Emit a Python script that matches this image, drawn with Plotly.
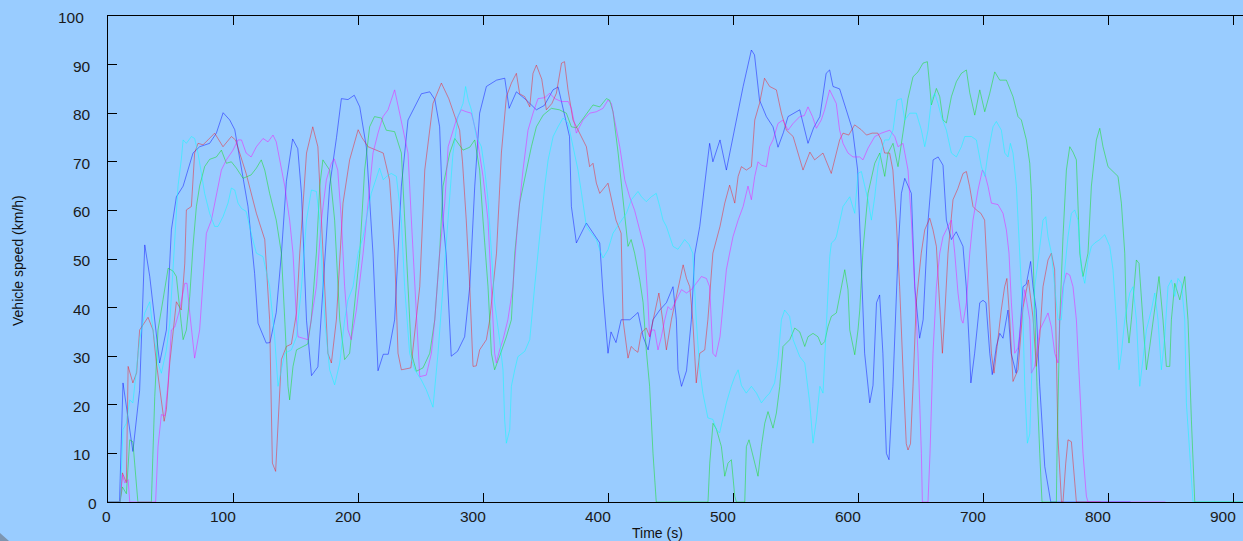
import plotly.graph_objects as go

# ---------------- data ----------------
blue_t = [0, 9.2, 12, 19.9, 25.3, 29.4, 33.4, 37.4, 41.3, 46.7, 50.7, 54.7, 60.1, 68, 73.3, 81.3, 86.7, 92.1, 97.4, 101.4,
          105.4, 112, 117.3, 120, 126.6, 129.6, 134.6, 138.7, 142.7, 147.7, 151.8, 154.8, 158.8, 162.8, 167.9, 171.9, 177.3,
          182.8, 186.7, 192, 197, 201.4, 206.7, 212, 216, 220.2, 224.2, 229.3, 234.7, 240, 244.4, 250.7, 257.4, 261.5, 265.3,
          268, 270.5, 274.6, 279.6, 285.3, 289.4, 293.4, 297.3, 302.7, 310.8, 317.4, 320.9, 326.7, 334.7, 342.7, 349.1, 356,
          360.1, 365.2, 369.2, 370.7, 374.7, 382.7, 388, 393.4, 396, 400, 402.4, 406.4, 410.5, 417.5, 424, 428.1, 432.1, 436,
          441.4, 446.7, 452, 454.7, 456, 458.8, 462.8, 466.7, 469.4, 473.4, 478.7, 481.3, 483.9, 489.6, 494.7, 502.7, 508.1,
          514.7, 517.2, 521.2, 526.7, 532, 536, 540.3, 544, 553.4, 560, 564.5, 569.5, 574.5, 577.3, 580, 585.3, 590.6, 595.7,
          599.7, 601.3, 602.7, 605.3, 609.4, 612, 614.8, 617.3, 619.9, 622.7, 624.8, 627.9, 632, 634.7, 637.4, 642.7, 645.4,
          649.3, 652.1, 656.1, 660.1, 664.1, 668, 670.7, 674.7, 678.6, 684, 686.6, 689.3, 690.3, 693.3, 697.4, 700, 702.4,
          705.4, 707.4, 710.7, 713.4, 716, 720, 722.5, 726.5, 729.3, 732, 734.6, 738.1, 740, 742.6, 745.4, 749.4, 754.2, 818]
blue_v = [0, 0, 24.5, 10.4, 23, 52.9, 46.4, 38, 28.6, 35.4, 56, 62.8, 65, 71.8, 73.1, 73.8, 75.9, 80.1, 78.6, 76.6,
          70.4, 60.8, 47, 36.8, 32.7, 32.8, 39, 51, 66, 74.7, 72.7, 63.4, 37.4, 26, 27.8, 44, 65,
          75, 83, 82.8, 83.7, 81.3, 73, 51, 27, 30.4, 30.4, 37.5, 65, 78.6, 80.7, 84, 84.4, 82.8, 77.2,
          58, 51, 30, 31, 34, 44.3, 65, 80, 85.5, 86.8, 87.2, 81, 84.4, 82.7, 80.7, 81.6, 84.8,
          85.4, 80, 75.2, 60.8, 53.3, 57.4, 55.3, 53.3, 43, 30.6, 35, 32.8, 37.5, 37.5, 39, 34, 31.3, 37.5,
          39.5, 41, 44.3, 37.5, 27.2, 23.8, 27, 37.5, 51, 56.7, 68.3, 73.8, 70, 74.5, 68.3, 78.6, 85.5,
          93, 92, 82.7, 79.3, 77.2, 73, 76, 79.3, 80.7, 73.8, 77, 79.3, 88.2, 88.9, 85.5, 85, 80.7, 76.5,
          68.3, 58, 47.8, 30.6, 20.4, 24, 41, 42.6, 30.6, 10, 8.7, 23.8, 51.2, 63.5, 66.6, 63.5, 44.3,
          33.7, 37.5, 58, 70.4, 71, 69.3, 58, 54, 55.6, 52.6, 44.3, 30.7, 24.5, 30.6, 41, 41.5, 41,
          30.6, 26.2, 32, 34.7, 33.7, 39.5, 30.6, 26.5, 34, 44.3, 44.8, 49.5, 44.3, 39.5, 23.8, 7.3, 0, 0]

red_t = [0, 9.7, 11.5, 14.7, 16.1, 19.9, 22.9, 25.3, 32, 36, 38.7, 42.7, 44.9, 46.7, 49.4, 54.7, 58.6, 61.4, 62.7, 66.7,
         69.3, 72, 76, 80, 85.3, 92, 98.7, 102, 110.5, 118.7, 125.4, 129.3, 131.5, 134.1, 136, 138.7, 142.7, 146.7, 150.8,
         153.4, 158.8, 163.8, 167.9, 171.9, 175.9, 178.7, 182.7, 188, 193.3, 200.1, 203.1, 208, 214.7, 220.2, 225.2, 229.3,
         232, 234.7, 242.3, 249.4, 253.4, 260, 266.7, 272.6, 281.3, 283.6, 286.6, 289.4, 292, 294.6, 297.3, 302.7, 305.4,
         310.8, 314.7, 318.7, 322.7, 326.7, 329.3, 333.4, 337.4, 340, 342.7, 347, 350.7, 355.1, 358.7, 362.8, 365.2, 368,
         372, 377.2, 382.7, 385.3, 388, 390.7, 393.4, 400, 404, 406.4, 410.5, 412, 416, 418.5, 421.3, 423.9, 426.6, 430.6,
         433.3, 437.3, 440.7, 443.7, 446.7, 450.7, 456.1, 460.1, 462.8, 465.4, 467.8, 470.6, 473.4, 477.4, 479.9, 483.9,
         489.6, 493.4, 497.3, 501.4, 504.1, 506.7, 510.7, 514.7, 517.4, 521.2, 525.2, 529.3, 534.7, 538.7, 542.7, 548.1,
         552, 556, 561.5, 565.3, 572, 578.6, 585.3, 588, 592.6, 597.3, 602.6, 606.8, 611.3, 615.8, 618.6, 621.3, 625.3,
         627.9, 630.6, 633.3, 636, 638.6, 640, 642, 644, 646.6, 650.6, 653.4, 657.4, 660, 662.7, 665.3, 667.5, 669.2, 672,
         676, 679.9, 684, 686.7, 689.3, 692, 694.6, 698.3, 701.3, 704, 706.7, 708.8, 712, 714.6, 717.3, 719.1, 721.4, 724,
         728, 732, 736.3, 740, 742.6, 745.4, 748, 752, 754.7, 757.3, 758.7, 759.9, 762.8, 764, 766.2, 768, 770.7, 772,
         774.7, 794]
red_v = [0, 0, 6, 4, 27.9, 24.5, 26.6, 35.4, 38, 35.4, 28.6, 20.3, 16.6, 19, 28.6, 41.2, 39.5, 49, 60.1, 60.8,
         71.8, 73.8, 73.5, 74.5, 75.9, 73.1, 75.2, 74.5, 67.6, 59.4, 54, 37.5, 8, 6.3, 17, 29.3, 32, 32.5, 38.9,
         51.2, 71.8, 77.2, 73.1, 51.2, 30.6, 28.6, 37.5, 61.5, 70.4, 76.6, 75, 73.1, 72.4, 71.8, 66.3, 51.2,
         30.6, 27.2, 27.6, 44.3, 68.3, 82, 86.2, 83, 76.5, 70, 58, 44.3, 27.9, 28, 31.3, 33.4, 37.5,
         51.2, 71.8, 83.4, 86.2, 88.2, 84, 83.4, 81.3, 88.2, 89.9, 87, 80.7, 82, 84.1, 90.3, 90.6, 84.8,
         78.6, 75.9, 73.1, 69, 69.7, 65.6, 63.5, 65.6, 60.8, 58, 55.3, 37.5, 29.6, 32, 31.3, 30.8, 34.8, 35.8,
         34, 38.9, 43, 37.5, 31.3, 37.5, 44.3, 48.8, 46, 44.3, 37.5, 24.5, 30.6, 31.3, 37.5, 51.2,
         56.7, 61.5, 65.2, 61.5, 67, 69, 68.3, 69, 78.6, 82, 87.2, 85.5, 84.8, 80, 76.5, 75.2,
         71.8, 68.3, 72, 70.4, 71.8, 67.6, 74.5, 75.9, 75.5, 77.6, 76.6, 75.5, 75.9, 75.9, 74.5, 71.8, 71.8,
         68.3, 58, 44.3, 27.2, 12, 10.7, 12, 23.8, 41, 51.2, 56, 58.4, 56, 52.6, 41, 30.6, 37.5, 51.2,
         62.2, 64.5, 67.6, 68, 64.9, 60.8, 60.1, 59.4, 58, 44.3, 30.6, 26.5, 34, 39.5, 44.3, 46, 37.5, 24.8,
         27.2, 40, 45.7, 38, 27.9, 34, 44.3, 49.8, 51.2, 47.8, 30.6, 13.5, 0, 0, 8, 12.8, 12.4, 8,
         0, 0]

green_t = [0, 9.7, 11.5, 14.7, 17.4, 19.9, 23.9, 34.7, 37.4, 40, 44, 48.1, 52.1, 54.7, 58.6, 60.1, 62.7, 65.4, 68, 70.7,
           73.3, 77.3, 81.3, 86.7, 90.7, 94.7, 98.7, 102.7, 108, 114.5, 118.7, 122.6, 125.4, 129.3, 134.6, 138.7, 141.4,
           144, 145.3, 148, 150.8, 156, 159.8, 162.6, 166.7, 169.4, 171.9, 177.3, 181.3, 185.4, 189.3, 193.3, 197.4, 201.4,
           205.3, 209.3, 213.2, 218.7, 222.6, 229.3, 234.7, 237.3, 240, 242.7, 246.7, 252, 257.4, 261.4, 265.3, 268, 273.4,
           277.4, 284, 289.4, 293.4, 297.3, 300, 304, 306.7, 309.3, 313.3, 318.7, 322.7, 325.4, 329.3, 334.7, 338.7, 342.7,
           348.1, 354.7, 361.1, 366.7, 370.7, 374.7, 381.3, 388, 393.4, 398.7, 401.3, 404, 408.1, 410.7, 413.4, 416, 418.5,
           421.3, 425.4, 428.1, 430.6, 433.3, 436, 438.6, 480, 481.4, 484, 486.7, 490.7, 493.4, 496, 498.7, 501.4, 502.7,
           509.4, 510.7, 512.8, 516, 520, 522.7, 525.4, 528, 532, 534.7, 537.4, 540, 542.7, 545.4, 549.4, 553.4, 557.4, 560,
           564, 568, 570.7, 573.4, 576, 578.7, 582.7, 585.4, 589.4, 592, 593.4, 597.4, 600, 601.4, 604, 608, 610.7, 613.4,
           617.4, 621.4, 624, 628, 632, 636, 640, 644, 648, 652, 655.5, 657.4, 658.7, 662.7, 665.4, 668, 670.7, 674.7,
           678.7, 682.7, 686.7, 689.4, 693.4, 697.4, 701.4, 705.4, 709.4, 713.4, 718.7, 724, 728, 730.7, 734.7, 737.4,
           738.7, 740, 741.4, 743.2, 745.4, 747.2, 758.7, 759.2, 761.4, 764, 766.7, 769.4, 772, 774.7, 777.4, 780, 784,
           786.7, 790.7, 793.4, 796, 800, 804, 808, 810.7, 813.4, 814.7, 816.8, 818.7, 822.7, 824.8, 828, 830.7, 833.4,
           836, 840.8, 844, 846.7, 849.4, 850.7, 853.4, 857.4, 861.4, 864, 866.7, 869.4, 912]
green_v = [0, 0, 3.1, 1.7, 12.8, 12.4, 0, 0, 21.7, 35.4, 41.6, 48.1, 47.5, 46.4, 36.8, 33.4, 35.4, 42.3, 52.6, 60.8,
           65, 69, 70.5, 71, 72.4, 69.7, 70, 68.7, 66.6, 67.3, 68.7, 70.4, 68.3, 63.5, 58, 51.2, 37.5,
           23.8, 21, 27.9, 31.3, 32, 32.5, 37.5, 51.2, 65, 70.4, 68.3, 58, 37.5, 29.3, 30.6, 41, 51.2,
           68.3, 77.2, 79.3, 79, 76.5, 76.2, 71.8, 58, 44.3, 30.6, 26.9, 27.6, 30.6, 37.5, 51.2, 65, 71.8,
           74.8, 72.4, 73, 74.5, 68.3, 58, 44.3, 30.6, 27.2, 30, 34, 37.5, 51.2, 61.5, 68.3, 73.1, 77.2,
           79.6, 81, 80.7, 80, 77.2, 77, 79.3, 81.7, 81.3, 83, 82.7, 80.3, 71.8, 65, 58, 52.6, 54,
           51.2, 45.7, 41, 31.3, 23.8, 10, 0, 0, 8, 16.2, 15, 11.4, 5.3, 8, 8.7, 1.2, 0,
           0, 11.4, 12.8, 9.4, 5.3, 11.4, 16.2, 18.6, 15.2, 18.3, 23.8, 32, 32.7, 33.4, 35.8, 35, 32, 34,
           34.7, 34, 32.3, 33, 36.1, 38.2, 38.9, 42.3, 47.8, 43.7, 35.4, 30.3, 35.4, 39.5, 51.9, 63.5, 66.6, 69.7,
           71.8, 67, 71.8, 73.8, 69, 76.5, 83, 87.5, 88.5, 90.3, 90.6, 85.5, 81.7, 85.1, 83.4, 78.6, 78, 83.4,
           86.5, 88.2, 88.9, 84.2, 79.6, 84.8, 80.3, 84.1, 88.5, 86.8, 86.8, 83.4, 79.3, 78.6, 74.5, 69.7,
           63.5, 51.2, 37.5, 23.8, 10, 0, 0, 10, 37.5, 54.6, 68.3, 73.1, 72, 70.4, 51.2, 46.4, 51.2,
           65, 74.5, 76.9, 73.1, 69, 68, 67, 61.5, 51.2, 37.5, 32.7, 37.5, 49.8, 49.1, 37.5, 27.2, 32,
           37.5, 46.4, 37.5, 27.9, 27.9, 37.5, 45, 41.6, 46.4, 37.5, 16.9, 0, 0]

magenta_t = [0, 9.7, 11.5, 13.4, 16.1, 17.4, 38.1, 40, 42.7, 45.4, 48.1, 50.7, 53.4, 57.3, 61.4, 63.2, 65.4, 69.3, 73.3,
             77.4, 78.7, 82.7, 86.7, 90.7, 94.7, 100, 104, 106.8, 110.5, 114.5, 118.7, 124, 128, 132, 134.6, 137.4, 141.4,
             145.3, 148, 150.8, 152, 156, 160, 162.6, 166.7, 170.7, 174.7, 178.7, 181, 183.8, 186.7, 189.3, 192, 194.6,
             198.7, 204.1, 208, 212, 216, 220, 224, 229.3, 233.3, 237.3, 240, 242.7, 245.4, 248, 249.4, 254.6, 258.7,
             261.4, 265.3, 269.4, 272.1, 278.6, 282.6, 286.6, 290.7, 294.7, 300, 304, 306.7, 309.3, 310.7, 313.3, 316,
             319.9, 323.9, 327.9, 332, 336, 340, 344, 349.4, 353.4, 357.4, 362.8, 368.2, 370.7, 374.7, 380, 385.3, 390.7,
             396, 400, 402.7, 405.3, 409.4, 413.4, 417.3, 421.3, 425.4, 429.4, 432, 433.3, 434.6, 437.3, 440, 442.7,
             445.4, 448, 450.7, 454.7, 458.8, 462.8, 466.7, 470.6, 474.7, 478.7, 481.3, 483.9, 486.2, 489.6, 492.2, 494.7,
             497.3, 500, 504.1, 508.1, 512, 514.7, 517.4, 520, 522.7, 526.7, 529.3, 532, 536, 540, 544, 548.1, 553.4,
             557, 560, 563.6, 566.7, 570.6, 573.3, 577.3, 582.6, 585.3, 588, 592, 596, 601.3, 604, 608, 613.4, 618.7,
             625.4, 629.4, 632, 636, 640, 642.7, 645.4, 648, 650.7, 651.5, 656, 657.6, 660, 662.7, 665.4, 668, 672,
             674.7, 677.4, 680, 682.7, 684, 686.7, 689.4, 692, 696, 699.5, 701.4, 704, 706.7, 712, 716, 718.7, 720.8,
             722.7, 725.4, 728, 730.7, 733.4, 737.4, 738.7, 741.4, 745.4, 749.4, 752, 754.7, 757.4, 760, 761.4, 764,
             766.7, 769.4, 772, 774.7, 777.4, 780, 782.7, 784, 846]
magenta_v = [0, 0, 5.6, 3.9, 4.6, 0, 0, 11.4, 18, 17.7, 24.5, 35.4, 36, 39.5, 45, 45, 38.9, 29.6, 35.4,
             49, 55.3, 58, 63.5, 68.3, 70.4, 72.4, 74.5, 74.5, 71.8, 71, 73.1, 74.8, 74.1, 75.5, 74.1, 70.4, 65,
             58, 51.2, 37.5, 34, 33.7, 33.4, 37.5, 44.3, 58, 66.3, 69.7, 70.6, 68.3, 58, 44.3, 35.4, 33.4,
             39.5, 51.2, 61.5, 71.8, 75.9, 79.3, 80.7, 84.8, 80, 75.2, 71.8, 58, 44.3, 30.6, 25.8, 26.1, 30.6,
             37.5, 51.2, 61.5, 73.1, 78.6, 80.7, 80.3, 80, 75.9, 67, 58, 44.3, 30.6, 28.6, 31.3, 33.4,
             37.5, 44.3, 58, 68.3, 76.5, 80, 83, 83.2, 84.1, 83, 82.4, 82.4, 81, 75.9, 78.6, 80, 80.3,
             81, 82.7, 82, 78.6, 73.1, 66.3, 62.8, 60, 56, 51.9, 41, 34, 35.4, 35.4, 31.3, 34, 37.5,
             40.2, 39.5, 41.6, 43.7, 43, 43.7, 45, 46.4, 46, 44.3, 30.6, 29.9, 34, 41, 47.8,
             51.2, 54.6, 58, 60.8, 65, 62.2, 67, 70, 69.3, 69, 73.1, 74.5, 77.9, 78.6, 76.5, 77.9, 79.3,
             79.5, 81.3, 79.3, 76.9, 78.6, 80.7, 84.8, 82, 76.5, 73.8, 71.8, 71, 71, 70.4, 72.8, 75.2, 75.9,
             76.5, 75.2, 73.1, 73.8, 68.3, 58, 44.3, 30.6, 10, 0, 0, 10, 30.6, 44.3, 51.2, 54.6, 56.7,
             58, 51.2, 43, 37.5, 36.8, 41, 51.2, 58, 64.2, 68.3, 67.6, 65, 61.5, 61.2, 59.4, 56, 51.2,
             41, 30.6, 31.7, 37.5, 43.7, 37.5, 26.5, 27.9, 35.4, 37.5, 38.9, 36, 30.6, 28.6, 37.5, 44.3,
             47.1, 46.7, 44.3, 37.5, 23.8, 10, 1.2, 0, 0]

cyan_t = [0, 9.7, 12, 14.7, 17.4, 19.9, 22.7, 25.3, 29.4, 33.4, 36, 40, 42.7, 46.7, 49.4, 52, 53.3, 56, 58.6, 60.1,
          62.7, 66.7, 69.3, 72, 74.7, 77.3, 81.3, 85.3, 88, 92, 96, 98.7, 101.4, 104, 106.8, 110.5, 114.5, 118.7, 124,
          129.3, 133.3, 136, 138.7, 141.4, 146.7, 150.8, 154.8, 158.8, 162.7, 166.7, 169.4, 173.4, 177.3, 181.3, 185.4,
          189.3, 192, 196, 200.1, 204.1, 208, 210.6, 214.2, 217.2, 220.2, 222.9, 226.6, 230.7, 234.7, 237.3, 241.3, 245.4,
          250.7, 254.6, 260, 264, 268, 272.1, 276, 280, 284, 286.1, 288.2, 290.7, 294.7, 298.7, 301.4, 304, 306.7, 309.3,
          313.3, 316, 317.3, 318.7, 321.4, 322.7, 325.4, 327.9, 333.4, 337.4, 341.3, 345.3, 349.4, 352.1, 356.1, 360, 364,
          368, 372, 376, 380, 382.7, 386.7, 390.7, 393.4, 396, 400, 404, 409.4, 414.7, 418.7, 424, 426.8, 430.6, 434.6,
          438.6, 441.4, 444, 446.7, 452, 456, 461.3, 464.8, 467.8, 470.6, 473.4, 475.9, 479.9, 483.9, 486.7, 489.3, 492,
          494.7, 498.6, 501.4, 504.1, 506.7, 510.6, 514.7, 518.8, 522.7, 526.7, 529.3, 533.3, 536, 538.7, 541.3, 545.3,
          548.1, 553.4, 557.4, 561.4, 564, 566.7, 569.5, 572, 574.7, 577.4, 578.7, 581.4, 582.7, 585.4, 588, 593.4,
          597.4, 600, 602.7, 605.4, 608, 610.7, 613.4, 616, 618.7, 621.4, 624.8, 628, 631.2, 634.7, 637.4, 641.4, 646.7,
          650.7, 653.4, 656, 658.7, 661.4, 664, 666.7, 670.7, 674.7, 678.7, 682.7, 685.4, 690.7, 694.7, 698.7, 701.4,
          704, 708, 710.7, 714.7, 717.4, 720, 721.9, 724, 726.7, 729.4, 732, 733.4, 735.5, 737.4, 739.5, 741.4, 744.8,
          748, 750.2, 752, 754.7, 757.4, 760, 762.7, 765.4, 768, 770.7, 773.4, 776, 778.7, 781.4, 784, 786.7, 789.4,
          793.4, 797.4, 801.4, 804, 806.7, 808.8, 810.7, 813.4, 817.4, 820, 822.7, 825.4, 828, 830.7, 834.7, 837.4, 840,
          842.7, 845.4, 848, 850.7, 853.4, 856, 858.7, 861.4, 862.7, 865.4, 868, 912]
cyan_v = [0, 0, 14.9, 16.2, 21, 20.4, 27.2, 33.4, 38.9, 41.2, 35.4, 28.6, 26.5, 31.3, 36.8, 49, 54.6, 65, 70.4, 74.5,
          73.8, 75.2, 74.8, 71.8, 67.6, 63.5, 59.4, 56.7, 56.7, 58.7, 61.5, 64.6, 64.2, 61.5, 60.4, 59.8, 55.3, 51.2, 50.5,
          44.3, 34, 23.8, 27.2, 30.6, 31.3, 34, 44.3, 58, 64.2, 63.9, 58, 37.5, 27.2, 24.1, 28.6,
          37.5, 41.6, 44.3, 51.2, 54.6, 60.1, 63.5, 66.3, 68.7, 66.3, 67, 67.6, 67, 58, 44.3, 30.6, 27.2,
          25.1, 23.1, 19.5, 30.6, 44.3, 58, 71.8, 79.3, 82, 85.5, 82.7, 80.7, 75.2, 73.1, 68.3, 62.2, 51.2, 41,
          33.4, 27.2, 17, 12.1, 14.9, 23.8, 27.2, 29.9, 31, 33.4, 44.3, 54.6, 65, 70.4, 75.2, 77.2, 79,
          78, 73.1, 68.3, 61.5, 56.7, 55.3, 54, 51.9, 50.2, 51.9, 55.3, 57.4, 59.4, 62.2, 63.9, 62.8, 61.8, 62.8,
          63.5, 60.8, 58, 56.7, 52.6, 52, 54, 53, 51.2, 37.5, 27.2, 22.4, 17.3, 17, 14.9, 14.2, 17,
          20.4, 23.8, 25.8, 27.2, 24, 22.4, 23.8, 22.4, 20.4, 21.7, 22.4, 24.5, 29.3, 37.5, 39.5, 38.2,
          33.4, 29.9, 28.6, 20.4, 12.1, 16.9, 23.8, 22.4, 35.4, 50.5, 53.3, 53.9, 54.6, 58, 60.8, 62.8,
          59.4, 67.6, 68, 65, 62.2, 58, 62.8, 69, 72.4, 74.5, 74.5, 76.5, 82.7, 83, 78.6, 80, 80,
          76.5, 73.1, 76.5, 82.7, 84.1, 82, 79.3, 76.5, 71.8, 71, 73.1, 75.2, 75.2, 74.5, 69, 67,
          71.8, 77.2, 78.3, 76.5, 71.8, 71, 73.8, 71.8, 65, 51.2, 37.5, 23.8, 12.1, 14, 30.6, 44.3, 51.2,
          58, 58.7, 54.6, 51.2, 44.3, 37.5, 37.5, 47.8, 54.6, 59.4, 60.1, 58, 47.8, 45, 49.8, 52.6, 53.3,
          54, 55, 52.6, 47.8, 37.5, 27.2, 30.6, 37.5, 43, 44.3, 37.5, 23.8, 30, 35.4, 39.5, 43, 37.5,
          27.2, 34, 44.3, 45.7, 42.3, 46, 45, 37.5, 20.4, 10, 0, 0]

x_tick_vals = [0, 100, 200, 300, 400, 500, 600, 700, 800, 900]
y_tick_vals = [0, 10, 20, 30, 40, 50, 60, 70, 80, 90, 100]

series = [
    ("blue", blue_t, blue_v, "rgba(0,0,255,0.5)"),
    ("red", red_t, red_v, "rgba(255,0,0,0.47)"),
    ("green", green_t, green_v, "rgba(0,225,0,0.5)"),
    ("magenta", magenta_t, magenta_v, "rgba(255,0,255,0.5)"),
    ("cyan", cyan_t, cyan_v, "rgba(0,255,255,0.55)"),
]

# ---------------- figure ----------------
W, H = 1243, 541
L, R, T, B = 108, 0, 16, 39
pw, ph = W - L - R, H - T - B
x_max = pw / 1.25  # 1.25 px per second
BG = "#99ccff"
FONT = "Liberation Sans, Arial, sans-serif"

fig = go.Figure()
for name, t, v, col in series:
    fig.add_trace(go.Scatter(x=t, y=v, mode="lines", name=name,
                             line=dict(color=col, width=0.9), hoverinfo="skip"))


def px_x(p):
    return (p - L) / pw


def px_y(p):
    return (H - B - p) / ph


ann = []
for val in y_tick_vals:
    n = len(str(val))
    ann.append(dict(x=px_x(87 - 15 * (n - 1) - 1), xref="paper", y=val, yref="y",
                    text=str(val), showarrow=False, xanchor="left", yanchor="middle",
                    yshift=-1.5, font=dict(family=FONT, size=15.5, color="#1a1a1a")))
for val in x_tick_vals:
    ann.append(dict(x=val, xref="x", y=px_y(516), yref="paper", text=str(val),
                    showarrow=False, xanchor="right", yanchor="middle", xshift=5,
                    font=dict(family=FONT, size=15.5, color="#1a1a1a")))
ann.append(dict(x=px_x(657), xref="paper", y=px_y(533), yref="paper", text="Time (s)",
                showarrow=False, xanchor="center", yanchor="middle",
                font=dict(family=FONT, size=14, color="#111111")))
ann.append(dict(x=px_x(18), xref="paper", y=px_y(261), yref="paper",
                text="Vehicle speed (km/h)", textangle=-90, showarrow=False,
                xanchor="center", yanchor="middle",
                font=dict(family=FONT, size=14, color="#111111")))

fig.update_layout(
    width=W, height=H,
    margin=dict(l=L, r=R, t=T, b=B, pad=0),
    paper_bgcolor=BG, plot_bgcolor=BG,
    showlegend=False,
    annotations=ann,
    shapes=[dict(type="path", xref="paper", yref="paper",
                 path=f"M {px_x(0)} {px_y(533)} L {px_x(0)} {px_y(541)} L {px_x(9)} {px_y(541)} Z",
                 fillcolor="#7d95b0", line=dict(width=0))],
    xaxis=dict(range=[0, x_max], tickvals=x_tick_vals, showticklabels=False,
               showgrid=False, zeroline=False, showline=True, linecolor="black", linewidth=1,
               ticks="inside", ticklen=9, tickwidth=1, tickcolor="black", mirror="ticks"),
    yaxis=dict(range=[0, 100], tickvals=y_tick_vals, showticklabels=False,
               showgrid=False, zeroline=False, showline=True, linecolor="black", linewidth=1,
               ticks="inside", ticklen=9, tickwidth=1, tickcolor="black", mirror=False),
)

fig.write_html("out.html")
